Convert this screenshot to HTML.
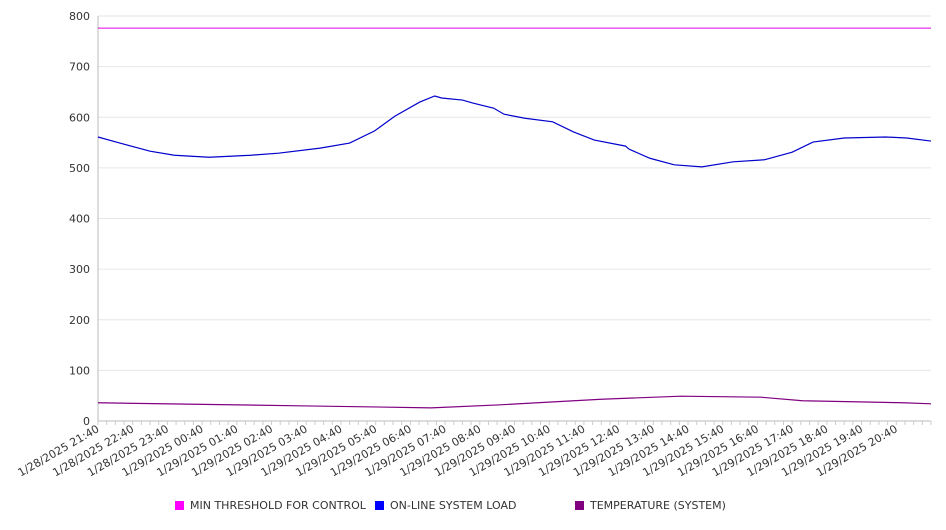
<!DOCTYPE html>
<html><head><meta charset="utf-8"><style>
body{margin:0;background:#fff;font-family:"DejaVu Sans","Liberation Sans",sans-serif}
svg text{font-family:"DejaVu Sans","Liberation Sans",sans-serif;font-size:11px;fill:#333}
</style></head><body>
<svg id="c" width="946" height="526"></svg>
<script>
const yTicks=[0,100,200,300,400,500,600,700,800];
const xLabels=["1/28/2025 21:40","1/28/2025 22:40","1/28/2025 23:40","1/29/2025 00:40","1/29/2025 01:40","1/29/2025 02:40","1/29/2025 03:40","1/29/2025 04:40","1/29/2025 05:40","1/29/2025 06:40","1/29/2025 07:40","1/29/2025 08:40","1/29/2025 09:40","1/29/2025 10:40","1/29/2025 11:40","1/29/2025 12:40","1/29/2025 13:40","1/29/2025 14:40","1/29/2025 15:40","1/29/2025 16:40","1/29/2025 17:40","1/29/2025 18:40","1/29/2025 19:40","1/29/2025 20:40"];
const loadHours=[0,0.63,1.5,2.2,3.2,4.4,5.2,6.4,7.25,7.97,8.55,9.27,9.7,9.9,10.5,10.8,11.4,11.7,12.3,13.1,13.7,14.3,15.2,15.3,15.9,16.6,17.4,18.3,19.2,20.0,20.6,21.5,22.7,23.3,24];
const loadValues=[561,549,533,525,521,525,529,539,549,573,602,630,642,638,634,628,618,606,598,591,571,555,543,537,519,506,502,512,516,531,551,559,561,559,553];
const tempHours=[0,5.8,9.6,11.6,14.5,16.8,19.1,20.3,23.2,24];
const tempValues=[36,30,26,32,43,49,47,40,36,34];
const threshold=776;
const x0=98,x1=931,yT=16,yB=421,span=24;
const X=h=>x0+(x1-x0)*h/span, Y=v=>yB-(yB-yT)*v/800;
const svg=document.getElementById('c'),NS="http://www.w3.org/2000/svg";
function mk(t,a,p){const e=document.createElementNS(NS,t);for(const k in a)e.setAttribute(k,a[k]);(p||svg).appendChild(e);return e;}
yTicks.forEach(v=>{
 const g=mk('line',{x1:x0,x2:x1,y1:Y(v),y2:Y(v),stroke:v?'#e6e6e6':'#bbb','stroke-width':1});
 
 
 const t=mk('text',{x:90,y:Y(v)+4,'text-anchor':'end'});t.textContent=v;
 
 
});
const ax=mk('line',{x1:x0,x2:x0,y1:yT,y2:yB,stroke:'#bbb'});


for(let i=0;i<=span*4;i++){const tk=mk('line',{x1:X(i/4),x2:X(i/4),y1:yB,y2:yB+4,stroke:'#ccc'});}
xLabels.forEach((s,i)=>{const t=mk('text',{x:0,y:0,'text-anchor':'end',transform:`translate(${X(i)+2},${yB+10}) rotate(-30)`});t.textContent=s;
 
 });
const th=mk('line',{x1:x0,x2:x1,y1:Y(threshold),y2:Y(threshold),stroke:'#e000e0','stroke-width':1});


const lp=mk('polyline',{points:loadHours.map((h,i)=>X(h)+','+Y(loadValues[i])).join(' '),fill:'none',stroke:'#0000cc','stroke-width':1.2});


const tp=mk('polyline',{points:tempHours.map((h,i)=>X(h)+','+Y(tempValues[i])).join(' '),fill:'none',stroke:'#800080','stroke-width':1.2});


[[175,'#ff00ff','MIN THRESHOLD FOR CONTROL'],[375,'#0000ff','ON-LINE SYSTEM LOAD'],[575,'#800080','TEMPERATURE (SYSTEM)']].forEach(([x,c,s])=>{
 const r=mk('rect',{x:x,y:501,width:9,height:9,fill:c});
 
 
 const t=mk('text',{x:x+15,y:509});t.textContent=s;
 
 
});
</script>
</body></html>
